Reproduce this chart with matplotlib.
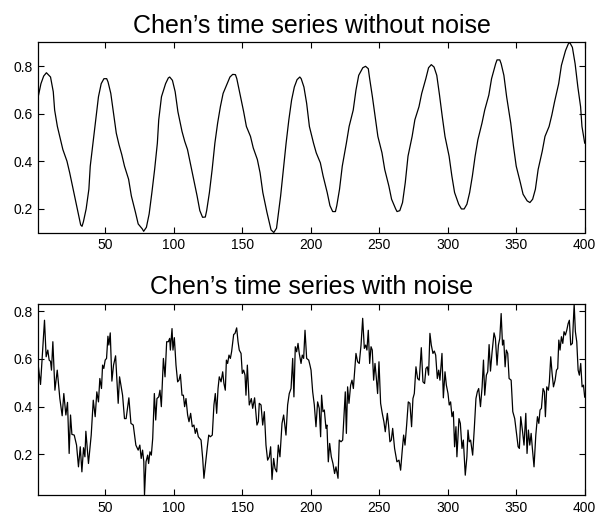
import matplotlib
matplotlib.use('Agg')
import matplotlib.pyplot as plt

# ---- data ----
titles = ["Chen\u2019s time series without noise", "Chen\u2019s time series with noise"]
x_ticks = [50, 100, 150, 200, 250, 300, 350, 400]
y_ticks = [0.2, 0.4, 0.6, 0.8]

clean_t = [1, 3, 5, 7, 10, 12, 13, 15, 17, 19, 22, 24, 26, 28, 30, 32, 33, 34, 36, 38,
           39, 41, 43, 45, 47, 49, 51, 52, 54, 56, 58, 60, 62, 64, 67, 69, 72, 74, 77, 78,
           80, 82, 84, 86, 88, 89, 91, 94, 96, 97, 99, 101, 103, 106, 108, 110, 112, 114, 117, 119,
           121, 123, 124, 126, 128, 130, 132, 134, 136, 139, 141, 143, 145, 146, 148, 151, 153, 156, 158, 161,
           163, 165, 168, 170, 171, 173, 175, 176, 178, 180, 182, 184, 186, 188, 190, 192, 193, 195, 197, 199,
           202, 204, 207, 209, 212, 214, 216, 218, 219, 221, 223, 226, 228, 231, 233, 235, 238, 240, 242, 243,
           245, 247, 249, 252, 254, 257, 259, 262, 263, 265, 267, 269, 271, 274, 276, 279, 281, 284, 286, 288,
           290, 292, 294, 296, 298, 301, 303, 305, 308, 310, 312, 314, 316, 318, 320, 322, 325, 327, 330, 332,
           335, 336, 338, 339, 341, 343, 346, 348, 350, 353, 355, 358, 360, 362, 364, 366, 369, 371, 374, 376,
           378, 381, 383, 386, 388, 389, 391, 393, 395, 397, 398, 400]
clean_v = [0.671, 0.726, 0.758, 0.772, 0.754, 0.692, 0.615, 0.546, 0.497, 0.449, 0.400, 0.351, 0.296, 0.240, 0.185, 0.132, 0.126, 0.145, 0.199, 0.282,
           0.379, 0.476, 0.574, 0.671, 0.726, 0.747, 0.747, 0.733, 0.685, 0.601, 0.518, 0.469, 0.428, 0.379, 0.324, 0.254, 0.185, 0.136, 0.115, 0.105,
           0.122, 0.178, 0.268, 0.365, 0.476, 0.574, 0.671, 0.726, 0.750, 0.754, 0.740, 0.692, 0.608, 0.525, 0.483, 0.449, 0.393, 0.338, 0.254, 0.192,
           0.164, 0.165, 0.192, 0.268, 0.365, 0.476, 0.560, 0.629, 0.685, 0.726, 0.754, 0.765, 0.764, 0.747, 0.692, 0.608, 0.546, 0.504, 0.456, 0.407,
           0.351, 0.268, 0.185, 0.136, 0.111, 0.100, 0.118, 0.164, 0.254, 0.365, 0.476, 0.574, 0.657, 0.712, 0.743, 0.754, 0.747, 0.712, 0.643, 0.546,
           0.476, 0.435, 0.393, 0.338, 0.268, 0.213, 0.188, 0.188, 0.213, 0.282, 0.379, 0.476, 0.546, 0.615, 0.699, 0.761, 0.793, 0.799, 0.789, 0.747,
           0.671, 0.588, 0.504, 0.435, 0.365, 0.296, 0.240, 0.199, 0.188, 0.192, 0.226, 0.310, 0.421, 0.504, 0.574, 0.629, 0.685, 0.747, 0.793, 0.806,
           0.796, 0.761, 0.678, 0.588, 0.504, 0.421, 0.338, 0.268, 0.219, 0.199, 0.199, 0.219, 0.268, 0.338, 0.421, 0.490, 0.560, 0.615, 0.678, 0.747,
           0.810, 0.826, 0.826, 0.810, 0.761, 0.671, 0.560, 0.463, 0.379, 0.310, 0.261, 0.233, 0.226, 0.240, 0.282, 0.365, 0.442, 0.504, 0.546, 0.594,
           0.650, 0.726, 0.803, 0.865, 0.893, 0.900, 0.879, 0.810, 0.712, 0.629, 0.546, 0.476]

noisy_t = [1.0, 2.7, 5.6, 6.8, 8.0, 9.0, 10.0, 10.7, 11.7, 13.2, 14.9, 16.8, 18.5, 19.7, 21.2, 22.4, 23.6, 24.6, 25.6, 27.3,
           29.0, 30.4, 31.7, 32.9, 34.1, 35.1, 35.8, 37.7, 39.7, 41.2, 42.6, 43.8, 45.0, 46.0, 47.2, 48.0, 48.9, 49.9, 50.9, 51.9,
           52.6, 53.6, 54.8, 56.0, 57.5, 59.4, 60.4, 62.6, 64.0, 65.2, 67.2, 68.7, 70.4, 72.3, 74.0, 75.2, 76.2, 77.2, 78.1, 78.6,
           79.7, 80.9, 81.6, 82.6, 83.6, 84.6, 85.8, 86.8, 87.7, 89.0, 89.9, 90.9, 92.4, 93.6, 94.8, 96.0, 97.0, 97.5, 98.7, 99.4,
           100.4, 101.6, 102.8, 103.8, 104.8, 106.0, 107.0, 107.9, 108.9, 110.1, 111.1, 112.3, 113.5, 114.7, 115.7, 116.7, 117.9, 119.9, 121.1, 122.0,
           123.3, 124.5, 125.5, 126.7, 128.1, 129.3, 130.3, 131.3, 132.3, 133.2, 134.5, 135.7, 136.6, 137.6, 138.4, 139.3, 140.3, 141.3, 142.2, 143.7,
           144.7, 145.9, 146.9, 147.8, 149.1, 150.0, 151.0, 152.0, 152.7, 153.7, 155.1, 156.6, 157.6, 159.0, 160.7, 161.7, 162.4, 163.7, 164.9, 166.1,
           167.3, 168.5, 169.7, 170.7, 171.7, 172.9, 173.9, 175.1, 176.3, 177.5, 179.0, 180.2, 181.9, 183.1, 184.3, 185.6, 186.8, 187.7, 188.7, 189.7,
           190.7, 191.6, 192.9, 193.8, 194.8, 195.8, 197.0, 198.5, 199.4, 200.2, 201.4, 202.6, 203.8, 205.0, 206.2, 207.2, 207.9, 208.9, 209.9, 211.1,
           211.8, 212.8, 213.8, 215.0, 216.2, 217.4, 218.4, 219.9, 220.8, 222.1, 223.3, 224.5, 225.2, 226.0, 226.9, 227.9, 229.1, 230.1, 231.1, 232.0,
           233.0, 234.2, 235.4, 236.7, 237.9, 239.1, 240.1, 241.0, 242.0, 243.0, 244.0, 244.9, 245.9, 246.9, 247.8, 248.8, 249.8, 251.0, 252.2, 253.4,
           254.4, 255.9, 256.8, 257.8, 258.8, 259.8, 261.2, 262.9, 264.4, 265.6, 266.8, 267.8, 268.8, 270.0, 271.2, 272.4, 273.6, 274.6, 275.6, 276.8,
           278.0, 279.2, 280.7, 281.9, 283.1, 284.1, 285.1, 286.0, 287.0, 288.0, 289.2, 290.2, 291.2, 292.4, 293.4, 294.3, 295.8, 296.8, 298.0, 299.0,
           300.2, 301.1, 302.1, 303.1, 304.1, 305.0, 306.0, 306.7, 308.2, 309.2, 310.4, 311.4, 312.8, 314.0, 314.8, 315.7, 316.7, 318.2, 319.4, 320.6,
           321.6, 322.6, 323.9, 325.1, 326.1, 327.0, 328.2, 329.2, 330.2, 331.2, 332.4, 333.8, 334.8, 336.0, 337.0, 338.0, 339.0, 340.0, 340.9, 341.9,
           342.8, 343.8, 344.8, 346.3, 347.5, 348.9, 350.2, 351.4, 352.3, 353.3, 354.5, 355.7, 357.0, 357.9, 358.9, 359.9, 360.9, 361.8, 363.0, 364.3,
           365.5, 366.5, 367.4, 368.4, 369.6, 370.6, 371.3, 372.3, 373.5, 374.2, 375.2, 376.2, 377.2, 378.4, 379.4, 380.3, 381.1, 382.0, 383.0, 384.0,
           384.9, 385.9, 386.9, 387.9, 388.8, 389.8, 391.0, 392.3, 393.2, 394.2, 395.2, 396.1, 397.1, 398.1, 399.1, 400.0]
noisy_v = [0.574, 0.493, 0.762, 0.609, 0.637, 0.595, 0.590, 0.553, 0.672, 0.469, 0.553, 0.434, 0.362, 0.455, 0.365, 0.418, 0.204, 0.365, 0.284, 0.281,
           0.239, 0.148, 0.232, 0.127, 0.228, 0.190, 0.297, 0.162, 0.281, 0.427, 0.358, 0.462, 0.420, 0.518, 0.476, 0.574, 0.560, 0.595, 0.602, 0.695,
           0.658, 0.709, 0.507, 0.574, 0.613, 0.414, 0.525, 0.448, 0.350, 0.350, 0.437, 0.330, 0.323, 0.239, 0.218, 0.239, 0.183, 0.218, 0.170, 0.030,
           0.169, 0.197, 0.162, 0.211, 0.197, 0.267, 0.455, 0.344, 0.434, 0.441, 0.469, 0.400, 0.602, 0.525, 0.672, 0.672, 0.686, 0.637, 0.727, 0.637,
           0.689, 0.574, 0.504, 0.511, 0.535, 0.448, 0.448, 0.400, 0.434, 0.365, 0.337, 0.372, 0.316, 0.323, 0.288, 0.309, 0.274, 0.260, 0.183, 0.100,
           0.169, 0.232, 0.281, 0.274, 0.281, 0.407, 0.455, 0.372, 0.476, 0.525, 0.504, 0.546, 0.497, 0.469, 0.595, 0.581, 0.616, 0.602, 0.630, 0.702,
           0.707, 0.730, 0.672, 0.637, 0.623, 0.539, 0.553, 0.532, 0.448, 0.574, 0.407, 0.434, 0.393, 0.437, 0.323, 0.337, 0.414, 0.407, 0.323, 0.379,
           0.239, 0.176, 0.190, 0.232, 0.095, 0.183, 0.141, 0.127, 0.239, 0.190, 0.330, 0.365, 0.281, 0.407, 0.455, 0.476, 0.602, 0.441, 0.651, 0.630,
           0.665, 0.623, 0.581, 0.616, 0.602, 0.720, 0.602, 0.595, 0.574, 0.553, 0.462, 0.407, 0.316, 0.420, 0.393, 0.274, 0.448, 0.379, 0.386, 0.309,
           0.323, 0.169, 0.246, 0.190, 0.162, 0.120, 0.148, 0.100, 0.260, 0.253, 0.260, 0.393, 0.462, 0.288, 0.483, 0.414, 0.490, 0.511, 0.476, 0.546,
           0.623, 0.588, 0.581, 0.658, 0.770, 0.644, 0.658, 0.637, 0.720, 0.581, 0.651, 0.637, 0.511, 0.581, 0.525, 0.455, 0.588, 0.414, 0.372, 0.337,
           0.295, 0.372, 0.323, 0.253, 0.260, 0.309, 0.225, 0.169, 0.176, 0.134, 0.218, 0.281, 0.239, 0.323, 0.420, 0.414, 0.316, 0.434, 0.455, 0.567,
           0.518, 0.511, 0.647, 0.504, 0.497, 0.560, 0.567, 0.532, 0.707, 0.658, 0.623, 0.633, 0.616, 0.518, 0.553, 0.511, 0.623, 0.437, 0.546, 0.490,
           0.455, 0.407, 0.420, 0.358, 0.379, 0.232, 0.316, 0.190, 0.350, 0.330, 0.225, 0.260, 0.113, 0.190, 0.302, 0.253, 0.260, 0.197, 0.309, 0.434,
           0.462, 0.476, 0.400, 0.483, 0.595, 0.448, 0.532, 0.546, 0.660, 0.549, 0.630, 0.709, 0.686, 0.574, 0.658, 0.686, 0.790, 0.658, 0.679, 0.567,
           0.637, 0.623, 0.518, 0.511, 0.379, 0.350, 0.288, 0.232, 0.225, 0.358, 0.302, 0.239, 0.372, 0.204, 0.302, 0.239, 0.288, 0.225, 0.148, 0.281,
           0.358, 0.330, 0.386, 0.393, 0.476, 0.462, 0.358, 0.483, 0.469, 0.504, 0.609, 0.539, 0.483, 0.511, 0.553, 0.560, 0.679, 0.637, 0.693, 0.665,
           0.714, 0.700, 0.720, 0.748, 0.762, 0.658, 0.665, 0.830, 0.714, 0.672, 0.553, 0.532, 0.581, 0.483, 0.490, 0.440]

plt.rcParams['font.family'] = ['Liberation Sans', 'DejaVu Sans']

W, H = 609, 515
fig = plt.figure(figsize=(W / 100, H / 100), dpi=100)
ax1 = fig.add_axes([38.2 / W, (H - 232.5) / H, 546.5 / W, 190.2 / H])
ax2 = fig.add_axes([38.2 / W, (H - 495.0) / H, 546.5 / W, 191.0 / H])

for ax, t, v, title in [(ax1, clean_t, clean_v, titles[0]), (ax2, noisy_t, noisy_v, titles[1])]:
    ax.plot(t, v, color='black', linewidth=0.9)
    ax.set_xlim(1, 400)
    ax.set_ylim(min(v), max(v))
    ax.set_xticks(x_ticks)
    ax.set_yticks(y_ticks)
    ax.set_xticklabels([str(x) for x in x_ticks])
    ax.set_yticklabels([f"{y:.1f}" for y in y_ticks])
    ax.tick_params(direction='in', top=True, right=True, length=4.5, width=0.8,
                   labelsize=10, pad=4)
    for s in ax.spines.values():
        s.set_linewidth(0.9)
    ax.set_title(title, fontsize=18, pad=7)

fig.savefig('out.png', dpi=100)
